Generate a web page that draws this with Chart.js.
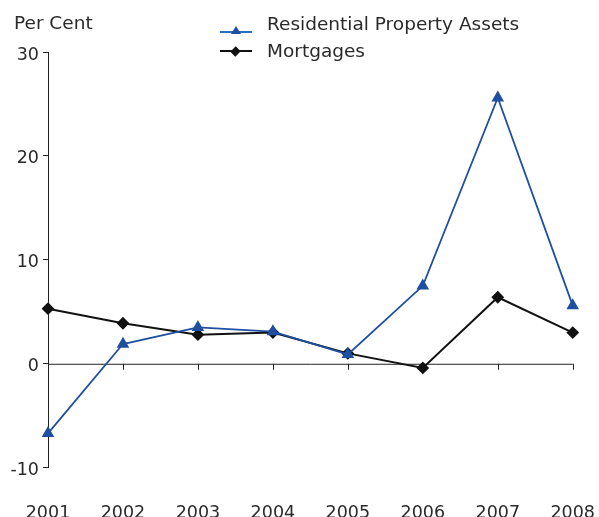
<!DOCTYPE html>
<html lang="en">
<head>
    <meta charset="UTF-8">
    <title>Residential Property Assets and Mortgages</title>
    <script src="https://cdn.jsdelivr.net/npm/chart.js"></script>
    <style>
        body {
            margin: 0;
            padding: 0;
            background: #fff;
            font-family: "DejaVu Sans", sans-serif;
            color: #2a2a2a;
        }

        .wrap {
            position: relative;
            width: 599px;
            height: 517px;
        }

        #chart {
            position: absolute;
            left: 0;
            top: 0;
        }

        .unit {
            position: absolute;
            left: 14px;
            top: 12px;
            font-size: 18.5px;
        }

        .legendItem {
            position: absolute;
            left: 220px;
            font-size: 18.5px;
            line-height: 22px;
            white-space: nowrap;
        }

        .legendItem .sample {
            position: absolute;
            left: 0;
            width: 32px;
            height: 0;
        }

        .legendItem .label {
            position: absolute;
            left: 47px;
            top: 0;
        }

        .tri {
            position: absolute;
            left: 11px;
            top: -7px;
            width: 0;
            height: 0;
            border-left: 5px solid transparent;
            border-right: 5px solid transparent;
            border-bottom: 8px solid #1f4fa0;
        }

        .dia {
            position: absolute;
            left: 12px;
            top: -4px;
            width: 7px;
            height: 7px;
            background: #111;
            transform: rotate(45deg) scale(1, 1.1);
        }
    </style>
</head>
<body>
    <div class="wrap">
        <canvas id="chart" width="599" height="517"></canvas>
        <div class="unit">Per Cent</div>
        <div class="legendItem" style="top: 13px;">
            <div class="sample" style="top: 18px; border-top: 2px solid #2a6fc0;"><div class="tri"></div></div>
            <div class="label">Residential Property Assets</div>
        </div>
        <div class="legendItem" style="top: 40px;">
            <div class="sample" style="top: 10px; border-top: 2px solid #111;"><div class="dia"></div></div>
            <div class="label">Mortgages</div>
        </div>
    </div>

    <script>
        // Data (per cent change)
        const years = ['2001', '2002', '2003', '2004', '2005', '2006', '2007', '2008'];
        const propertyAssets = [-6.7, 1.9, 3.5, 3.1, 0.9, 7.5, 25.6, 5.6];
        const mortgages = [5.3, 3.9, 2.8, 3.0, 1.0, -0.4, 6.4, 3.0];
        const yTicks = [30, 20, 10, 0, -10];

        const FONT = "'DejaVu Sans', sans-serif";

        // zero line with downward tick marks at each year
        const zeroLine = {
            id: 'zeroLine',
            beforeDatasetsDraw(chart) {
                const ctx = chart.ctx;
                const x = chart.scales.x;
                const y = chart.scales.y;
                const y0 = y.getPixelForValue(0);
                ctx.save();
                ctx.strokeStyle = '#222';
                ctx.lineWidth = 1;
                ctx.beginPath();
                ctx.moveTo(x.left, y0 + 0.5);
                ctx.lineTo(x.right, y0 + 0.5);
                years.forEach((yr, i) => {
                    const px = Math.round(x.getPixelForValue(i)) + 0.5;
                    ctx.moveTo(px, y0);
                    ctx.lineTo(px, y0 + 6);
                });
                ctx.stroke();
                ctx.restore();
            }
        };

        new Chart(document.getElementById('chart'), {
            type: 'line',
            data: {
                labels: years,
                datasets: [
                    {
                        label: 'Residential Property Assets',
                        data: propertyAssets,
                        borderColor: '#1f4fa0',
                        backgroundColor: '#1f4fa0',
                        borderWidth: 1.8,
                        pointStyle: 'triangle',
                        pointRadius: 5.5,
                        tension: 0
                    },
                    {
                        label: 'Mortgages',
                        data: mortgages,
                        borderColor: '#111',
                        backgroundColor: '#111',
                        borderWidth: 2,
                        pointStyle: 'rectRot',
                        pointRadius: 5,
                        tension: 0
                    }
                ]
            },
            options: {
                responsive: false,
                animation: false,
                layout: {
                    padding: { top: 52, right: 0, bottom: 0, left: 0 }
                },
                plugins: {
                    legend: { display: false },
                    tooltip: { enabled: false }
                },
                scales: {
                    x: {
                        offset: false,
                        // invisible long tick marks push the labels down to the bottom
                        grid: {
                            display: true,
                            drawOnChartArea: false,
                            drawTicks: true,
                            tickLength: 31,
                            color: 'rgba(0,0,0,0)'
                        },
                        border: { display: false },
                        ticks: {
                            padding: 4,
                            color: '#2a2a2a',
                            font: { family: FONT, size: 17.5 },
                            maxRotation: 0,
                            autoSkip: false
                        },
                        afterFit(scale) { scale.height = 49.3; }
                    },
                    y: {
                        min: -10,
                        max: 30,
                        afterBuildTicks(scale) {
                            scale.ticks = yTicks.map(v => ({ value: v }));
                        },
                        grid: {
                            drawOnChartArea: false,
                            drawTicks: true,
                            tickLength: 5,
                            color: '#222'
                        },
                        border: { display: true, color: '#222', width: 1 },
                        ticks: {
                            padding: 4,
                            labelOffset: 3,
                            color: '#2a2a2a',
                            font: { family: FONT, size: 17.5 }
                        },
                        afterFit(scale) { scale.width = 48; }
                    }
                }
            },
            plugins: [zeroLine]
        });
    </script>
</body>
</html>
